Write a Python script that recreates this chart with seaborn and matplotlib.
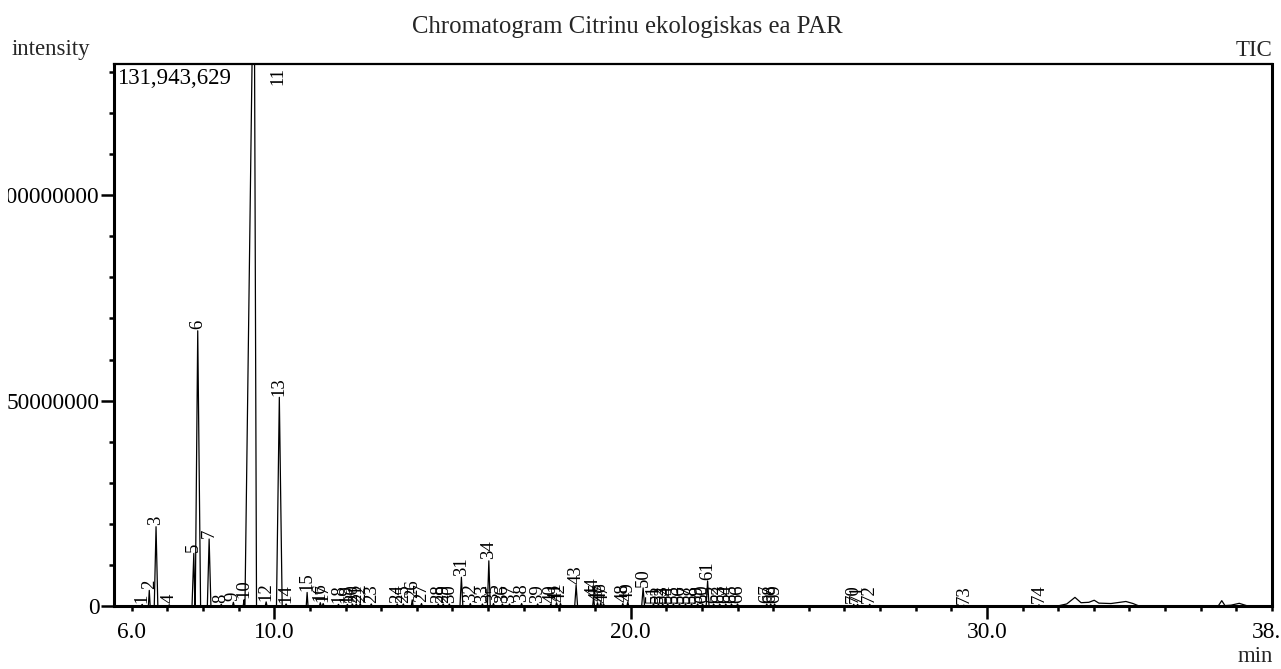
import numpy as np
import pandas as pd
import matplotlib
matplotlib.use("Agg")
import matplotlib.pyplot as plt
from matplotlib.transforms import Bbox, TransformedBbox
import seaborn as sns

# ---------------- data ----------------
peak_no = list(range(1, 75))
peak_rt = [6.29, 6.49, 6.68, 7.05, 7.74, 7.85, 8.17, 8.51, 8.85, 9.15,
           9.43, 9.77, 10.14, 10.33, 10.92, 11.29, 11.37, 11.80, 12.05, 12.19,
           12.30, 12.41, 12.72, 13.45, 13.62, 13.87, 14.13, 14.60, 14.74, 14.91,
           15.25, 15.50, 15.84, 16.02, 16.15, 16.40, 16.60, 16.94, 17.39, 17.76,
           17.92, 18.03, 18.47, 18.96, 19.07, 19.16, 19.24, 19.78, 19.92, 20.35,
           20.64, 20.78, 20.90, 21.04, 21.20, 21.37, 21.54, 21.71, 21.88, 22.02,
           22.16, 22.33, 22.50, 22.67, 22.83, 23.00, 23.82, 23.93, 24.04, 26.26,
           26.37, 26.71, 29.35, 31.46]
# intensities in millions of counts
peak_height_m = [0.4, 3.8, 19.3, 0.3, 12.8, 67.0, 16.3, 0.4, 0.9, 1.5,
                 169.0, 1.0, 50.8, 0.5, 3.3, 0.8, 0.6, 0.4, 0.4, 0.5,
                 0.5, 0.6, 0.5, 0.5, 0.5, 1.5, 0.6, 0.5, 0.5, 0.5,
                 7.0, 0.6, 0.5, 11.0, 0.6, 0.5, 0.5, 0.6, 0.5, 0.5,
                 0.8, 0.6, 5.1, 2.2, 0.8, 0.8, 0.5, 0.6, 1.0, 4.4,
                 0.5, 0.5, 0.5, 0.5, 0.5, 0.5, 0.5, 0.5, 0.5, 0.5,
                 6.1, 0.5, 0.5, 0.5, 0.5, 0.5, 0.5, 0.5, 0.5, 0.4,
                 0.4, 0.4, 0.2, 0.3]
# peak foot widths (min) before / after apex; narrow peaks default
wide_peaks = {3: (0.05, 0.05), 5: (0.05, 0.04), 6: (0.08, 0.08), 7: (0.05, 0.05),
              11: (0.28, 0.07), 13: (0.08, 0.08), 31: (0.04, 0.04), 34: (0.04, 0.04),
              43: (0.04, 0.04), 50: (0.04, 0.04), 61: (0.04, 0.04)}
# late-eluting baseline hump
hump_t = [31.98, 32.24, 32.47, 32.64, 32.86, 33.01, 33.14, 33.48, 33.90, 34.10, 34.24, 34.46,
          36.49, 36.59, 36.68, 36.85, 37.08, 37.32, 38.0]
hump_i_m = [0.0, 0.5, 2.1, 0.8, 0.9, 1.4, 0.7, 0.6, 1.1, 0.6, 0.1, 0.0,
            0.0, 1.3, 0.1, 0.2, 0.65, 0.0, 0.0]

full_scale = 131943629
x_tick_vals = [6.0, 10.0, 20.0, 30.0, 38.0]
x_tick_labels = ["6.0", "10.0", "20.0", "30.0", "38.0"]
y_tick_vals = [0, 50000000, 100000000]
y_tick_labels = ["0", "50000000", "100000000"]

# ---------------- build trace vertices from the peak table ----------------
ts, ys = [5.5], [0.0]
for n, rt, h in zip(peak_no, peak_rt, peak_height_m):
    wl, wr = wide_peaks.get(n, (0.025, 0.025))
    ts += [rt - wl, rt, rt + wr]
    ys += [0.0, h * 1e6, 0.0]
ts += hump_t
ys += [v * 1e6 for v in hump_i_m]
trace = pd.DataFrame({"time": ts, "intensity": ys}).sort_values("time", kind="stable")

# ---------------- figure ----------------
sns.set_style("ticks")
plt.rcParams["font.family"] = ["Liberation Serif", "DejaVu Serif"]

W, H = 1281, 669
fig = plt.figure(figsize=(W / 100, H / 100), dpi=100)
ax = fig.add_axes([114 / W, (H - 606) / H, (1272 - 114) / W, (606 - 64) / H])

sns.lineplot(data=trace, x="time", y="intensity", ax=ax, color="black",
             linewidth=0.9, estimator=None, sort=False)

ax.set_xlim(5.5, 38.0)
ax.set_ylim(0, full_scale)
ax.set_xlabel("")
ax.set_ylabel("")

FS = 16.8
ax.set_xticks(x_tick_vals)
ax.set_xticklabels(x_tick_labels, fontsize=FS)
ax.set_xticks(np.arange(6, 39, 1), minor=True)
ax.set_yticks(y_tick_vals)
ax.set_yticklabels(y_tick_labels, fontsize=FS)
ax.set_yticks(np.arange(0, full_scale, 10000000), minor=True)

ax.tick_params(axis="both", which="major", length=9.4, width=1.8, direction="out",
               color="black", labelcolor="black")
ax.tick_params(axis="x", which="major", pad=2)
ax.tick_params(axis="y", which="major", pad=1)
ax.tick_params(axis="both", which="minor", length=3.3, width=1.8, direction="out",
               color="black")
# the end labels (6.0 and 38.0) sit on short ticks
for i in (0, len(x_tick_vals) - 1):
    ax.xaxis.get_major_ticks()[i].tick1line.set_markersize(3.3)

# y tick labels are cut by the page's left margin in the reference
clip = TransformedBbox(Bbox([[8 / W, 0], [1, 1]]), fig.transFigure)
for lbl in ax.get_yticklabels():
    lbl.set_clip_on(True)
    lbl.set_clip_box(clip)

for side, lw in (("left", 2.2), ("bottom", 2.2), ("right", 2.2), ("top", 1.6)):
    ax.spines[side].set_visible(True)
    ax.spines[side].set_linewidth(lw)
    ax.spines[side].set_color("black")

# peak number labels
LFS = 13.5
for n, rt, h in zip(peak_no, peak_rt, peak_height_m):
    hv = h * 1e6
    if hv >= full_scale:
        ax.annotate(str(n), xy=(rt, full_scale), xytext=(17, -2),
                    textcoords="offset points", rotation=90, ha="center", va="top",
                    fontsize=LFS, color="black", annotation_clip=False)
    else:
        ax.annotate(str(n), xy=(rt, hv), xytext=(0, 1),
                    textcoords="offset points", rotation=90, ha="center", va="bottom",
                    fontsize=LFS, color="black")

ax.text(0.003, 0.993, f"{full_scale:,}", transform=ax.transAxes, ha="left", va="top",
        fontsize=16.5, color="black")

fig.text(627 / W, 1 - 27 / H, "Chromatogram Citrinu ekologiskas ea PAR",
         ha="center", va="center", fontsize=17.8)
fig.text(12 / W, 1 - 50 / H, "intensity", ha="left", va="center", fontsize=16.5)
fig.text(1272 / W, 1 - 50 / H, "TIC", ha="right", va="center", fontsize=16.5)
fig.text(1255 / W, 1 - 657 / H, "min", ha="center", va="center", fontsize=16.5)

fig.savefig("out.png", dpi=100, facecolor="white")
